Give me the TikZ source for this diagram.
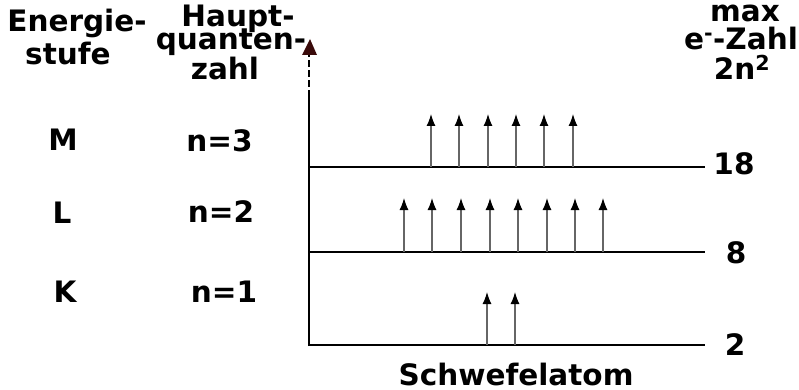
\documentclass[tikz,border=0pt]{standalone}
\usepackage{fontspec}
\setmainfont{DejaVu Sans}
\usetikzlibrary{arrows.meta}
\definecolor{axred}{HTML}{3A0A0A}
\tikzset{
  lbl/.style={font=\bfseries\fontsize{29.5}{30}\selectfont, inner sep=0pt, anchor=base},
  level/.style={line width=2.5pt, black},
  spin/.style={line width=1.2pt, black!60, -{Latex[length=12pt,width=9pt,color=black]}},
}
\begin{document}
\begin{tikzpicture}[x=1pt,y=-1pt]
\useasboundingbox (0,0) rectangle (799,390);
% axis
\coordinate (a0) at (309,346);
\coordinate (a1) at (309,97);
\coordinate (a2) at (309,55);
\coordinate (tip) at (310,39);
\draw[level] (a0) -- (a1);
\draw[line width=2.5pt, dash pattern=on 7pt off 3pt, black] (a1) -- (a2);
\fill[axred] (tip) -- ([xshift=-7pt]a2) -- ([xshift=8pt]a2) -- cycle;
% levels
\coordinate (k0) at (308,345); \coordinate (k1) at (705,345);
\coordinate (l0) at (308,252); \coordinate (l1) at (705,252);
\coordinate (m0) at (308,167); \coordinate (m1) at (705,167);
\draw[level] (k0) -- (k1);
\draw[level] (l0) -- (l1);
\draw[level] (m0) -- (m1);
% electrons
\foreach \x in {431,459,488,516,544,573} \draw[spin] (\x,167) -- (\x,114);
\foreach \x in {404,432,461,490,518,547,575,603} \draw[spin] (\x,252) -- (\x,198);
\foreach \x in {487,515} \draw[spin] (\x,345) -- (\x,292);
% header labels
\node[lbl] (es1) at (77,32) {Energie-};
\node[lbl] (es2) at (68,65) {stufe};
\node[lbl] (hq1) at (238,27) {Haupt-};
\node[lbl] (hq2) at (231,50) {quanten-};
\node[lbl] (hq3) at (225,80) {zahl};
\node[lbl] (mx1) at (745,22) {max};
\node[lbl] (mx2) at (741,50) {e\textsuperscript{-}-Zahl};
\node[lbl] (mx3) at (742,80) {2n\textsuperscript{2}};
% row labels
\node[lbl] (M) at (63,150) {M};
\node[lbl] (L) at (62,223) {L};
\node[lbl] (K) at (65,302) {K};
\node[lbl] (n3) at (219.5,152) {n=3};
\node[lbl] (n2) at (221,222) {n=2};
\node[lbl] (n1) at (224,302) {n=1};
\node[lbl] (v18) at (734,175) {18};
\node[lbl] (v8) at (736,263) {8};
\node[lbl] (v2) at (735,355) {2};
\node[lbl] (sw) at (516,385) {Schwefelatom};
\end{tikzpicture}
\end{document}
